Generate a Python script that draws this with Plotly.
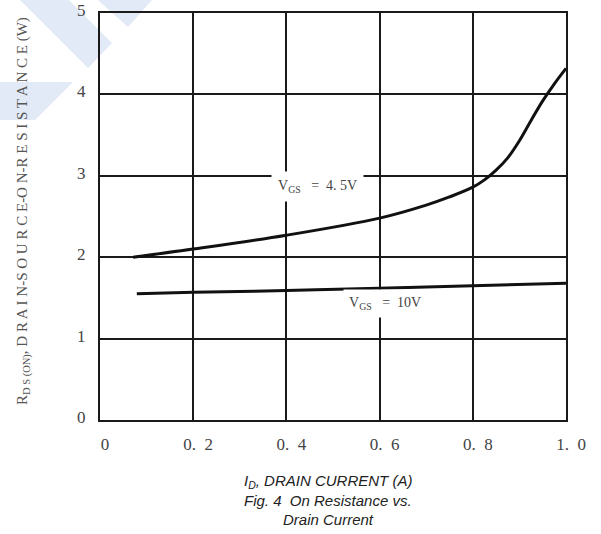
import plotly.graph_objects as go

# Data
id_45 = [0.071, 0.2, 0.4, 0.6, 0.7, 0.75, 0.8, 0.825, 0.85, 0.875, 0.9, 0.925, 0.95, 0.975, 1.0]
r_45 = [2.00, 2.10, 2.27, 2.48, 2.64, 2.74, 2.86, 2.95, 3.07, 3.22, 3.43, 3.68, 3.92, 4.13, 4.32]

id_10 = [0.079, 0.2, 0.4, 0.6, 0.8, 1.0]
r_10 = [1.55, 1.57, 1.59, 1.62, 1.65, 1.68]

x_ticks = [0, 0.2, 0.4, 0.6, 0.8, 1.0]
x_tick_labels = ["0", "0.\u00a0 2", "0.\u00a0 4", "0.\u00a0 6", "0.\u00a0 8", "1.\u00a0 0"]
y_ticks = [0, 1, 2, 3, 4, 5]
y_tick_labels = ["0", "1", "2", "3", "4", "5"]

# Layout geometry (pixels)
W, H = 601, 534
L, R, T, B = 100, 35, 13, 114
pw, ph = W - L - R, H - T - B


def px(x):
    return (x - L) / pw


def py(y):
    return (H - B - y) / ph


fig = go.Figure()
fig.add_trace(go.Scatter(x=id_45, y=r_45, mode="lines",
                         line=dict(color="#111", width=3, shape="spline", smoothing=1.0),
                         hoverinfo="skip", showlegend=False))
fig.add_trace(go.Scatter(x=id_10, y=r_10, mode="lines",
                         line=dict(color="#111", width=3, shape="spline"),
                         hoverinfo="skip", showlegend=False))

# watermark decoration (light blue diagonal bands)
wm = "rgb(226,233,247)"
bands = [
    [(20, 0), (69, 0), (112, 43), (88, 68)],
    [(98, 0), (152, 0), (128, 27)],
    [(0, 82), (73, 82), (35, 120), (0, 120)],
]
shapes = []
for b in bands:
    path = "M " + " L ".join(f"{px(x):.4f},{py(y):.4f}" for x, y in b) + " Z"
    shapes.append(dict(type="path", xref="paper", yref="paper", path=path,
                       fillcolor=wm, line=dict(width=0), layer="below"))

serif = "Liberation Serif"
nb = "\u00a0"
annotations = [
    dict(x=px(317), y=py(186), xref="paper", yref="paper", showarrow=False,
         xanchor="center", yanchor="middle",
         text=f"V<sub>GS</sub>{nb*3}={nb*2}4.{nb}5V",
         font=dict(family=serif, size=14, color="#444"),
         bgcolor="white", borderpad=6),
    dict(x=px(385), y=py(303), xref="paper", yref="paper", showarrow=False,
         xanchor="center", yanchor="middle",
         text=f"V<sub>GS</sub>{nb*3}={nb*2}10V",
         font=dict(family=serif, size=14, color="#444"),
         bgcolor="white", borderpad=5),
    dict(x=px(328), y=py(481), xref="paper", yref="paper", showarrow=False,
         xanchor="center", yanchor="middle",
         text="<i>I<sub>D</sub>, DRAIN CURRENT (A)</i>",
         font=dict(family="Liberation Sans", size=15, color="#222")),
    dict(x=px(328), y=py(501), xref="paper", yref="paper", showarrow=False,
         xanchor="center", yanchor="middle",
         text="<i>Fig. 4  On Resistance vs.</i>",
         font=dict(family="Liberation Sans", size=15, color="#222")),
    dict(x=px(328), y=py(519), xref="paper", yref="paper", showarrow=False,
         xanchor="center", yanchor="middle",
         text="<i>Drain Current</i>",
         font=dict(family="Liberation Sans", size=15, color="#222")),
    dict(x=px(23), y=py(211), xref="paper", yref="paper", showarrow=False,
         xanchor="center", yanchor="middle", textangle=-90,
         text="R<sub>D S (ON)</sub>, D R A I N-S O U R C E-O N-R E S I S T A N C E (W)",
         font=dict(family=serif, size=15, color="#555")),
]

axis_common = dict(showgrid=True, gridcolor="#1a1a1a", gridwidth=2,
                   showline=True, linecolor="#1a1a1a", linewidth=2, mirror=True,
                   zeroline=False, ticks="", tickfont=dict(family=serif, size=17, color="#444"),
                   ticklabeloverflow="allow", automargin=False)

fig.update_layout(
    width=W, height=H,
    margin=dict(l=L, r=R, t=T, b=B),
    paper_bgcolor="white", plot_bgcolor="white",
    xaxis=dict(range=[0, 1.0], tickvals=x_ticks, ticktext=x_tick_labels,
               ticklabelstandoff=8, ticklabelshift=5, **axis_common),
    yaxis=dict(range=[0, 5], tickvals=y_ticks, ticktext=y_tick_labels,
               ticklabelstandoff=9, ticklabelshift=-3, **axis_common),
    shapes=shapes,
    annotations=annotations,
)

fig.write_html("out.html")
